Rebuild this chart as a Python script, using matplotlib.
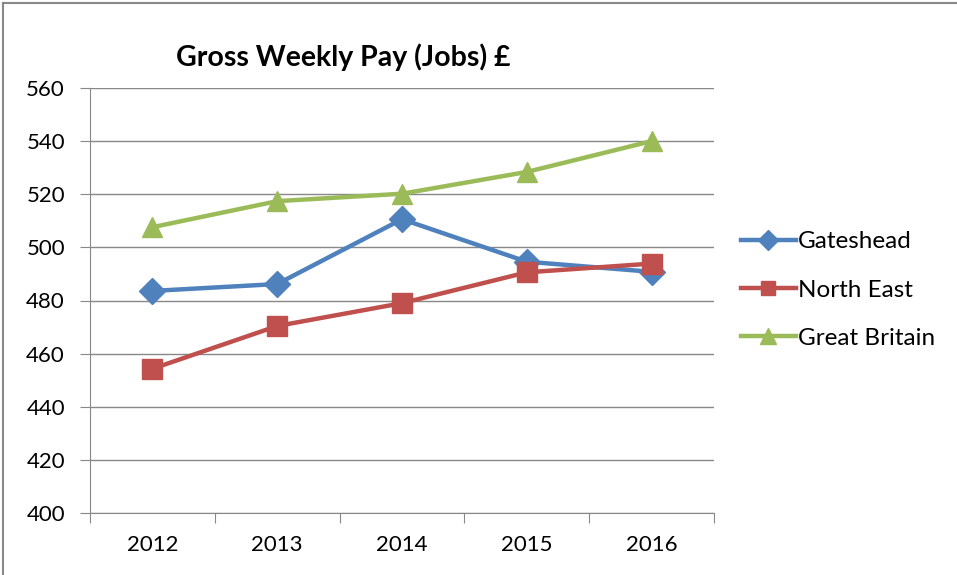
import matplotlib
matplotlib.use('Agg')
import matplotlib.pyplot as plt
from matplotlib.lines import Line2D
import numpy as np

plt.rcParams['font.family'] = ['Lato', 'DejaVu Sans']

years = ['2012', '2013', '2014', '2015', '2016']
gateshead = [483.6, 486.2, 510.6, 494.6, 490.8]
north_east = [454.3, 470.4, 479.0, 490.6, 493.9]
great_britain = [507.6, 517.4, 520.2, 528.4, 540.0]

W, H = 957, 575
fig = plt.figure(figsize=(W / 100, H / 100), dpi=100)
ax = fig.add_axes([90 / W, (H - 513) / H, 624 / W, 425 / H])

x = np.arange(len(years))
ax.plot(x, gateshead, color='#4F81BD', lw=3.2, marker='D', ms=13, label='Gateshead')
ax.plot(x, north_east, color='#C0504D', lw=3.2, marker='s', ms=14, label='North East')
ax.plot(x, great_britain, color='#9BBB59', lw=3.2, marker='^', ms=15, label='Great Britain')

ax.set_xlim(-0.5, len(years) - 0.5)
ax.set_ylim(400, 560)
ax.set_yticks(np.arange(400, 561, 20))
ax.yaxis.grid(True, color='#888888', lw=1)
ax.set_axisbelow(True)

# category boundaries get tick marks, labels sit in the middle
ax.set_xticks(np.arange(-0.5, len(years)), labels=[''] * (len(years) + 1))
ax.set_xticks(x, labels=years, minor=True)
ax.tick_params(axis='x', which='major', length=7, color='#888888', direction='out')
ax.tick_params(axis='x', which='minor', length=0, pad=16, labelsize=16)
ax.tick_params(axis='y', length=7, color='#888888', labelsize=16, pad=11)

for s in ['top', 'right']:
    ax.spines[s].set_visible(False)
for s in ['left', 'bottom']:
    ax.spines[s].set_color('#888888')

fig.text(343 / W, 1 - 57 / H, 'Gross Weekly Pay (Jobs) \u00a3', ha='center', va='center',
         fontsize=20.5, fontweight='bold')

leg = fig.legend(loc='center left', bbox_to_anchor=(741 / W, 1 - 290 / H), frameon=False,
                 fontsize=17.5, handlelength=2.25, handletextpad=0.1, labelspacing=1.13,
                 borderaxespad=0, borderpad=0, markerscale=0.75)

# chart frame
fig.add_artist(Line2D([3 / W, 3 / W], [0, 1 - 3 / H], color='#888888', lw=1.5))
fig.add_artist(Line2D([3 / W, 1], [1 - 3 / H, 1 - 3 / H], color='#888888', lw=1.5))

fig.savefig('out.png', dpi=100)
